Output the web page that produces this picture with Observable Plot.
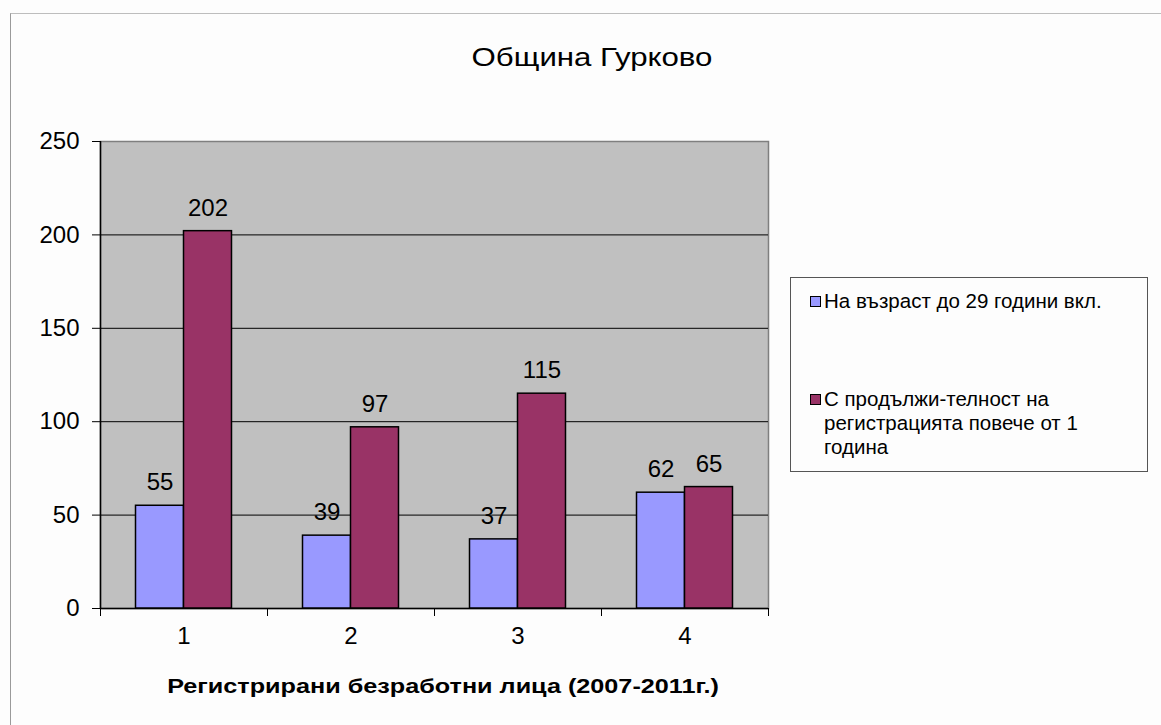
<!DOCTYPE html>
<html>
<head>
<meta charset="utf-8">
<script src="https://cdn.jsdelivr.net/npm/d3@7"></script>
<script src="https://cdn.jsdelivr.net/npm/@observablehq/plot@0.6"></script>
<style>
  body { margin: 0; background: #fdfdfd; font-family: "Liberation Sans", Arial, sans-serif; }
  #wrap { position: relative; width: 1161px; height: 725px; overflow: hidden; }
  #outer { position: absolute; left: 10px; top: 13px; width: 1160px; height: 720px; border-left: 1.5px solid #9a9a9a; border-top: 1.5px solid #bdbdbd; }
  #title { position: absolute; left: 0; width: 1184px; top: 42px; line-height: 30px; text-align: center; font-size: 26px; color: #000; transform: scaleX(1.2); transform-origin: 592px 50%; }
  #xlabel { position: absolute; left: 100px; width: 686px; top: 673px; line-height: 26px; text-align: center; font-size: 21px; font-weight: bold; color: #000; transform: scaleX(1.2); transform-origin: 343px 50%; }
  #legend { position: absolute; left: 790px; top: 277px; width: 356px; height: 193px; border: 1.5px solid #555; background: #fdfdfd; font-size: 20.5px; color: #000; }
  .item { position: absolute; left: 19px; display: flex; align-items: flex-start; line-height: 24px; }
  .sw { width: 9px; height: 9px; border: 1.5px solid #000; margin-top: 7px; margin-right: 3px; flex: none; }
  svg { position: absolute; left: 0; top: 0; }
</style>
</head>
<body>
<div id="wrap">
  <div id="outer"></div>
  <div id="chart"></div>
  <div id="title"></div>
  <div id="xlabel"></div>
  <div id="legend"></div>
</div>
<script>
const title = "Община Гурково";
const xLabel = "Регистрирани безработни лица (2007-2011г.)";
const categories = [1, 2, 3, 4];
const seriesNames = ["На възраст до 29 години вкл.", "С продължи-телност на регистрацията повече от 1 година"];
const seriesA = [55, 39, 37, 62];
const seriesB = [202, 97, 115, 65];
const colors = ["#9999FF", "#993366"];
const yTicks = [0, 50, 100, 150, 200, 250];

const half = 0.2874; // bar width in category units
const data = [];
categories.forEach((c, i) => {
  data.push({cat: c, s: 0, v: seriesA[i], x1: c - half, x2: c});
  data.push({cat: c, s: 1, v: seriesB[i], x1: c, x2: c + half});
});
const boundaries = [0.5, ...categories.map(c => c + 0.5)];

const font = "Liberation Sans, Arial, sans-serif";
const chart = Plot.plot({
  width: 1161,
  height: 725,
  marginLeft: 100,
  marginRight: 393,
  marginTop: 141,
  marginBottom: 117,
  style: {fontFamily: font, fontSize: "24px", background: "transparent", color: "#000"},
  x: {type: "linear", domain: [0.5, 4.5]},
  y: {domain: [0, 250]},
  color: {domain: [0, 1], range: colors},
  marks: [
    Plot.frame({fill: "#c0c0c0", stroke: "#7f7f7f", strokeWidth: 1.5}),
    Plot.ruleY(yTicks.filter(t => t > 0 && t < 250), {stroke: "#000", strokeWidth: 1}),
    Plot.ruleX([0.5], {stroke: "#000", strokeWidth: 1.5}),
    Plot.ruleY([0], {stroke: "#000", strokeWidth: 1.5}),
    Plot.rectY(data, {x1: "x1", x2: "x2", y: "v", fill: d => d.s, stroke: "#000", strokeWidth: 1.5}),
    Plot.text(data, {x: d => (d.x1 + d.x2) / 2, y: "v", text: "v", dy: -23, fontSize: 24, fill: "#000"}),
    Plot.axisY({ticks: yTicks, tickSize: 8, tickPadding: 13, label: null, fontSize: 24, stroke: "#000"}),
    Plot.axisX({ticks: boundaries, tickSize: 8, tickFormat: () => "", label: null, stroke: "#000"}),
    Plot.axisX({ticks: categories, tickSize: 0, tickPadding: 18, tickFormat: d => String(d), label: null, fontSize: 24})
  ]
});
document.getElementById("chart").appendChild(chart);

document.getElementById("title").textContent = title;
document.getElementById("xlabel").textContent = xLabel;
const legend = document.getElementById("legend");
const tops = [11, 109];
seriesNames.forEach((name, i) => {
  const it = document.createElement("div");
  it.className = "item";
  it.style.top = tops[i] + "px";
  it.style.width = "310px";
  const sw = document.createElement("div");
  sw.className = "sw";
  sw.style.background = colors[i];
  const tx = document.createElement("div");
  tx.textContent = name;
  it.appendChild(sw); it.appendChild(tx);
  legend.appendChild(it);
});
</script>
</body>
</html>
